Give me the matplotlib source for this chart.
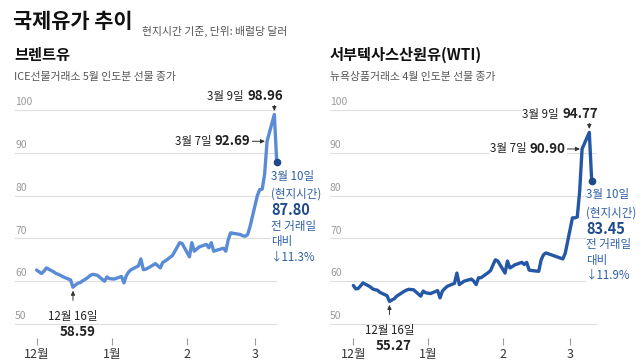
import matplotlib

matplotlib.use("Agg")

import matplotlib.pyplot as plt
import pandas as pd

plt.rcParams["font.family"] = ["Noto Sans CJK KR", "DejaVu Sans"]

# trading days, Dec 1 - Mar 10 (Christmas and New Year's Day off)
DATES = [d for d in pd.bdate_range("2025-12-01", "2026-03-10")
         if d not in (pd.Timestamp("2025-12-25"), pd.Timestamp("2026-01-01"))]

BRENT = [
    62.6, 62.2, 61.8, 62.3, 63.1, 62.2, 61.8, 61.6, 61.3, 61.0, 60.3, 58.59,
    59.1, 59.5, 59.7, 60.8, 61.3, 61.6, 61.4, 60.0, 61.0, 60.6,
    60.5, 61.1, 59.6, 61.3, 62.2, 62.7, 63.6, 65.2, 62.7, 62.8, 63.1, 64.1,
    63.6, 63.1, 64.4, 64.7, 66.0, 67.0, 68.0, 69.0, 68.8,
    65.7, 69.0, 67.0, 67.5, 68.0, 68.6, 67.8, 69.0, 67.0, 67.2, 67.7, 67.0,
    69.7, 71.3, 71.2, 70.9, 70.6, 70.5, 70.9, 72.8,
    80.0, 81.4, 81.5, 85.0, 92.69, 98.96, 87.80,
]
WTI = [
    59.0, 58.2, 58.3, 58.9, 59.6, 58.7, 58.2, 58.0, 57.9, 57.4, 56.6, 55.27,
    55.6, 55.9, 56.5, 57.6, 57.9, 58.1, 58.0, 56.5, 57.7, 57.3,
    57.1, 57.8, 56.1, 57.7, 58.3, 58.8, 59.5, 61.9, 59.2, 59.6, 60.0, 60.5,
    60.0, 59.2, 60.8, 60.8, 62.0, 62.5, 63.8, 65.0, 64.7,
    61.9, 64.7, 63.1, 63.4, 63.8, 64.4, 63.9, 64.4, 62.6, 62.5, 62.3, 65.0,
    66.2, 66.6, 66.4, 65.8, 65.6, 65.4, 65.2, 66.5,
    74.8, 74.8, 75.0, 81.0, 90.90, 94.77, 83.45,
]
Y_TICKS = [50, 60, 70, 80, 90, 100]
X_TICKS = ["2025-12-01", "2026-01-01", "2026-02-01", "2026-03-01"]
X_LABELS = ["12월", "1월", "2", "3"]

PANELS = [
    {
        "name": "브렌트유",
        "sub": "ICE선물거래소 5월 인도분 선물 종가",
        "values": BRENT,
        "color": "#5a8bd5",
        "rect": [15 / 640, 15 / 360, 262 / 640, 245 / 360],
        "xlim": (-8.9, 99.1),
        "title_x": 14,
        "low": ("12월 16일", "58.59"),
        "mar7": ("3월 7일 ", "92.69"),
        "mar9": ("3월 9일 ", "98.96"),
        "last": "87.80",
        "change": "↓11.3%",
    },
    {
        "name": "서부텍사스산원유(WTI)",
        "sub": "뉴욕상품거래소 4월 인도분 선물 종가",
        "values": WTI,
        "color": "#2457a5",
        "rect": [330 / 640, 15 / 360, 267 / 640, 245 / 360],
        "xlim": (-9.7, 101.2),
        "title_x": 330,
        "low": ("12월 16일", "55.27"),
        "mar7": ("3월 7일 ", "90.90"),
        "mar9": ("3월 9일 ", "94.77"),
        "last": "83.45",
        "change": "↓11.9%",
    },
]

NOTE_BLUE = "#2e5fa8"
NAVY = "#1c4a8a"
TEXT = "#222222"
GRAY = "#555555"
ARROW = dict(arrowstyle="-|>,head_length=0.25,head_width=0.12",
             color="#333333", lw=0.7, shrinkA=0, shrinkB=0)
WHITE_BOX = dict(boxstyle="square,pad=0.1", fc="white", ec="none")


def draw_panel(fig, p):
    ax = fig.add_axes(p["rect"])
    dates = pd.to_datetime(DATES)
    base = pd.Timestamp("2025-12-01")
    ax.set_xlim(base + pd.Timedelta(days=p["xlim"][0]), base + pd.Timedelta(days=p["xlim"][1]))
    ax.set_ylim(45.09, 102.34)
    for s in ax.spines.values():
        s.set_visible(False)
    ax.set_yticks([])
    for v in Y_TICKS:
        ax.axhline(v, color="#dedede", lw=0.8, zorder=1)
        ax.annotate(str(v), (0, v), xycoords=("axes fraction", "data"),
                    xytext=(0, 2), textcoords="offset points", ha="left",
                    va="bottom", fontsize=7.5, color="#9a9a9a")
    ax.set_xticks(pd.to_datetime(X_TICKS))
    ax.set_xticklabels(X_LABELS, fontsize=9, color="#333333")
    ax.tick_params(axis="x", direction="in", length=5, width=0.8,
                   color="#999999", pad=2)
    ax.patch.set_alpha(0)

    vals = p["values"]
    ax.plot(dates, vals, color=p["color"], lw=2.4, solid_joinstyle="round",
            solid_capstyle="round", zorder=3, clip_on=False)
    ax.plot(dates[-1], vals[-1], "o", color=NAVY, ms=4.5, zorder=4, clip_on=False)

    # low point
    i_low = vals.index(min(vals))
    xl, yl = dates[i_low], vals[i_low]
    ax.annotate("", (xl, yl - 0.8), xytext=(0, -7), textcoords="offset points",
                arrowprops=ARROW, annotation_clip=False)
    ax.annotate(p["low"][0], (xl, yl), xytext=(0, -21), textcoords="offset points",
                ha="center", va="center", fontsize=8.3, color=TEXT, annotation_clip=False)
    ax.annotate(p["low"][1], (xl, yl), xytext=(3, -32), textcoords="offset points",
                ha="center", va="center", fontsize=9.6, fontweight="bold",
                color=TEXT, annotation_clip=False)

    # Mar 9 peak
    xp, yp = dates[-2], vals[-2]
    ax.annotate("", (xp, yp + 0.8), xytext=(0, 7.5), textcoords="offset points",
                arrowprops=ARROW, annotation_clip=False)
    ax.annotate(p["mar9"][1], (xp, yp), xytext=(6, 13), textcoords="offset points",
                ha="right", va="center", fontsize=9.6, fontweight="bold",
                color=TEXT, annotation_clip=False, bbox=WHITE_BOX)
    ax.annotate(p["mar9"][0], (xp, yp), xytext=(-20, 13), textcoords="offset points",
                ha="right", va="center", fontsize=8.3, color=TEXT,
                annotation_clip=False, bbox=WHITE_BOX)

    # Mar 7
    x7, y7 = dates[-3], vals[-3]
    ax.annotate("", (x7, y7), xytext=(-11, 0), textcoords="offset points",
                arrowprops=dict(ARROW, shrinkB=1.5), annotation_clip=False)
    ax.annotate(p["mar7"][1], (x7, y7), xytext=(-12, 0), textcoords="offset points",
                ha="right", va="center", fontsize=9.6, fontweight="bold",
                color=TEXT, annotation_clip=False, bbox=WHITE_BOX)
    ax.annotate(p["mar7"][0], (x7, y7), xytext=(-38, 0), textcoords="offset points",
                ha="right", va="center", fontsize=8.3, color=TEXT,
                annotation_clip=False, bbox=WHITE_BOX)

    # last value block
    xe, ye = dates[-1], vals[-1]
    lines = [("3월 10일", 8.3, "normal", NOTE_BLUE, -10),
             ("(현지시간)", 8.3, "normal", NOTE_BLUE, -23),
             (p["last"], 10.5, "bold", NAVY, -34.5),
             ("전 거래일", 8.3, "normal", NOTE_BLUE, -46),
             ("대비", 8.3, "normal", NOTE_BLUE, -57),
             (p["change"], 8.3, "normal", NOTE_BLUE, -68)]
    for txt, size, weight, col, dy in lines:
        ax.annotate(txt, (xe, ye), xytext=(-4, dy), textcoords="offset points",
                    ha="left", va="center", fontsize=size, fontweight=weight,
                    color=col, annotation_clip=False,
                    bbox=dict(boxstyle="square,pad=0.05", fc="white", ec="none"))

    fig.text(p["title_x"] / 640, 1 - 55 / 360, p["name"], fontsize=11,
             fontweight="bold", color="#111111", va="center")
    fig.text(p["title_x"] / 640, 1 - 77 / 360, p["sub"], fontsize=7.8,
             color=GRAY, va="center")
    return ax


def main():
    fig = plt.figure(figsize=(6.4, 3.6), dpi=100)
    fig.patch.set_facecolor("white")
    fig.text(13 / 640, 1 - 22 / 360, "국제유가 추이", fontsize=15,
             fontweight="bold", color="#111111", va="center")
    fig.text(142 / 640, 1 - 31 / 360, "현지시간 기준, 단위: 배럴당 달러",
             fontsize=7.8, color=GRAY, va="center")
    for p in PANELS:
        draw_panel(fig, p)
    fig.savefig("out.png", dpi=100, facecolor="white")
    plt.close(fig)


if __name__ == "__main__":
    main()
